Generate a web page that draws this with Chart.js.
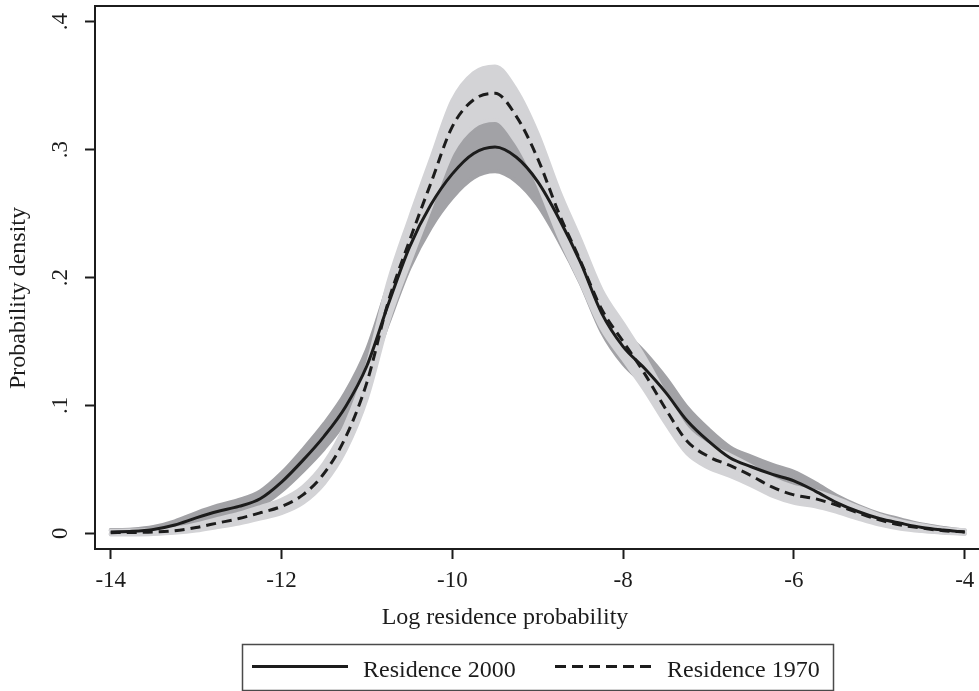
<!DOCTYPE html>
<html>
<head>
<meta charset="utf-8">
<script src="https://cdn.jsdelivr.net/npm/chart.js@4.4.1/dist/chart.umd.min.js"></script>
<style>
  html, body { margin: 0; padding: 0; background: #ffffff; overflow: hidden; }
  #wrap { width: 980px; height: 691px; }
</style>
</head>
<body>
<div id="wrap"><canvas id="densityChart" width="980" height="691"></canvas></div>
<script>
// Grille de l'axe x (log residence probability)
const xGrid = [-14, -13.75, -13.5, -13.25, -13, -12.75, -12.5, -12.25, -12, -11.75, -11.5, -11.25, -11, -10.75, -10.5, -10.25,
  -10, -9.75, -9.5, -9.25, -9, -8.75, -8.5, -8.25, -8, -7.75, -7.5, -7.25, -7, -6.75, -6.5, -6.25, -6, -5.75, -5.5, -5.25,
  -5, -4.75, -4.5, -4.25, -4];

// Residence 2000 : densité + bande de confiance
const density2000 = [0.001, 0.0015, 0.003, 0.0065, 0.012, 0.017, 0.021, 0.027, 0.040, 0.057, 0.076, 0.099, 0.131, 0.179, 0.224, 0.257,
  0.281, 0.297, 0.302, 0.294, 0.275, 0.246, 0.212, 0.172, 0.146, 0.129, 0.110, 0.088, 0.072, 0.059, 0.052, 0.046, 0.041, 0.033, 0.024, 0.017,
  0.0115, 0.0078, 0.0045, 0.0025, 0.001];
const lower2000 = [-0.0005, 0.0000, 0.0011, 0.0037, 0.0082, 0.0125, 0.0160, 0.0213, 0.0331, 0.0487, 0.0664, 0.0881, 0.1184, 0.1643, 0.2076, 0.2394,
  0.2626, 0.2781, 0.2830, 0.2752, 0.2568, 0.2288, 0.1960, 0.1576, 0.1327, 0.1165, 0.0985, 0.0777, 0.0627, 0.0506, 0.0441, 0.0386, 0.0340, 0.0267, 0.0186, 0.0125,
  0.0078, 0.0047, 0.0022, 0.0008, -0.0001];
const upper2000 = [0.0025, 0.0030, 0.0049, 0.0093, 0.0158, 0.0215, 0.0260, 0.0327, 0.0469, 0.0653, 0.0856, 0.1099, 0.1436, 0.1937, 0.2404, 0.2746,
  0.2994, 0.3159, 0.3210, 0.3128, 0.2932, 0.2632, 0.2280, 0.1864, 0.1593, 0.1415, 0.1215, 0.0983, 0.0813, 0.0674, 0.0599, 0.0534, 0.0480, 0.0393, 0.0294, 0.0215,
  0.0152, 0.0109, 0.0068, 0.0042, 0.0021];

// Residence 1970 : densité + bande de confiance
const density1970 = [0.0005, 0.0006, 0.001, 0.002, 0.0045, 0.008, 0.0115, 0.016, 0.021, 0.030, 0.047, 0.075, 0.118, 0.181, 0.229, 0.274,
  0.318, 0.339, 0.344, 0.326, 0.293, 0.250, 0.213, 0.175, 0.150, 0.125, 0.097, 0.072, 0.060, 0.053, 0.045, 0.036, 0.030, 0.027, 0.022, 0.016,
  0.0105, 0.0065, 0.004, 0.002, 0.001];
const lower1970 = [-0.0010, -0.0009, -0.0005, 0.0004, 0.0021, 0.0048, 0.0077, 0.0115, 0.0158, 0.0238, 0.0392, 0.0652, 0.1057, 0.1658, 0.2119, 0.2553,
  0.2978, 0.3182, 0.3231, 0.3056, 0.2736, 0.2321, 0.1965, 0.1600, 0.1361, 0.1123, 0.0859, 0.0624, 0.0512, 0.0448, 0.0374, 0.0292, 0.0238, 0.0211, 0.0167, 0.0115,
  0.0068, 0.0036, 0.0017, 0.0004, -0.0005];
const upper1970 = [0.0020, 0.0021, 0.0025, 0.0036, 0.0069, 0.0112, 0.0153, 0.0205, 0.0262, 0.0362, 0.0548, 0.0848, 0.1303, 0.1962, 0.2461, 0.2927,
  0.3382, 0.3598, 0.3649, 0.3464, 0.3124, 0.2679, 0.2295, 0.1900, 0.1639, 0.1377, 0.1081, 0.0816, 0.0688, 0.0612, 0.0526, 0.0428, 0.0362, 0.0329, 0.0273, 0.0205,
  0.0142, 0.0094, 0.0063, 0.0036, 0.0025];

const xTickValues = [-14, -12, -10, -8, -6, -4];
const xTickLabels = ['-14', '-12', '-10', '-8', '-6', '-4'];
const yTickValues = [0, 0.1, 0.2, 0.3, 0.4];
const yTickLabels = ['0', '.1', '.2', '.3', '.4'];
const seriesNames = ['Residence 2000', 'Residence 1970'];
const xTitle = 'Log residence probability';
const yTitle = 'Probability density';

const ink = '#1c1c1c';
const bandDark = '#a2a2a6';
const bandLight = '#d3d3d6';
const serif = '"Liberation Serif", "DejaVu Serif", serif';
const tickSize = 23;
const textSize = 24;

const pts = arr => xGrid.map((x, i) => ({ x: x, y: arr[i] }));

function bandLine(data, color, order, fill) {
    return {
        data: pts(data),
        borderColor: color,
        backgroundColor: color,
        borderWidth: 4,
        borderCapStyle: 'round',
        borderJoinStyle: 'round',
        pointRadius: 0,
        cubicInterpolationMode: 'monotone',
        fill: fill,
        order: order
    };
}

// cadre du haut, titres d'axes et légende
const decorPlugin = {
    id: 'decor',
    afterDraw(chart) {
        const { ctx, chartArea } = chart;
        ctx.save();
        ctx.strokeStyle = ink;
        ctx.lineWidth = 2;
        ctx.beginPath();
        ctx.moveTo(chartArea.left - 1, chartArea.top);
        ctx.lineTo(chartArea.right, chartArea.top);
        ctx.stroke();

        ctx.fillStyle = ink;
        ctx.font = textSize + 'px ' + serif;
        ctx.textAlign = 'center';
        ctx.textBaseline = 'alphabetic';
        ctx.fillText(xTitle, 505, 624);

        ctx.save();
        ctx.translate(19, 298);
        ctx.rotate(-Math.PI / 2);
        ctx.textBaseline = 'middle';
        ctx.fillText(yTitle, 0, 0);
        ctx.restore();

        // légende
        ctx.strokeStyle = '#4a4a4a';
        ctx.lineWidth = 1.5;
        ctx.strokeRect(242.5, 644.5, 591, 46);

        ctx.strokeStyle = ink;
        ctx.lineWidth = 3;
        ctx.beginPath();
        ctx.moveTo(252, 666.5);
        ctx.lineTo(348, 666.5);
        ctx.stroke();
        ctx.setLineDash([11, 6]);
        ctx.beginPath();
        ctx.moveTo(555, 666.5);
        ctx.lineTo(652, 666.5);
        ctx.stroke();
        ctx.setLineDash([]);

        ctx.textAlign = 'left';
        ctx.textBaseline = 'alphabetic';
        ctx.fillText(seriesNames[0], 363, 677);
        ctx.fillText(seriesNames[1], 667, 677);
        ctx.restore();
    }
};

function initializeDensityChart() {
    const ctx = document.getElementById('densityChart');
    if (!ctx) return;

    new Chart(ctx.getContext('2d'), {
        type: 'line',
        data: {
            datasets: [
                bandLine(lower2000, bandDark, 3, false),
                bandLine(upper2000, bandDark, 3, '-1'),
                bandLine(lower1970, bandLight, 2, false),
                bandLine(upper1970, bandLight, 2, '-1'),
                {
                    label: seriesNames[0],
                    data: pts(density2000),
                    borderColor: ink,
                    borderWidth: 3,
                    pointRadius: 0,
                    cubicInterpolationMode: 'monotone',
                    fill: false,
                    order: 1
                },
                {
                    label: seriesNames[1],
                    data: pts(density1970),
                    borderColor: ink,
                    borderWidth: 3,
                    borderDash: [10, 6],
                    pointRadius: 0,
                    cubicInterpolationMode: 'monotone',
                    fill: false,
                    order: 0
                }
            ]
        },
        options: {
            responsive: false,
            animation: false,
            layout: { padding: { top: 6, left: 0, right: 0, bottom: 0 } },
            plugins: {
                legend: { display: false },
                tooltip: { enabled: false }
            },
            scales: {
                x: {
                    type: 'linear',
                    min: -14.184,
                    max: -3.821,
                    afterBuildTicks: axis => { axis.ticks = xTickValues.map(v => ({ value: v })); },
                    afterFit: axis => {
                        axis.height = 691 - 549;
                        axis.paddingLeft = 0; axis.paddingRight = 0;
                    },
                    ticks: {
                        padding: 8,
                        maxRotation: 0,
                        autoSkip: false,
                        color: ink,
                        font: { family: serif, size: tickSize },
                        callback: (v, i) => xTickLabels[i]
                    },
                    grid: { drawOnChartArea: false, drawTicks: true, tickLength: 10, tickWidth: 2, tickColor: ink },
                    border: { display: true, color: ink, width: 2 }
                },
                y: {
                    type: 'linear',
                    min: -0.0123,
                    max: 0.4123,
                    afterBuildTicks: axis => { axis.ticks = yTickValues.map(v => ({ value: v })); },
                    afterFit: axis => {
                        axis.width = 95;
                        axis.paddingTop = 0; axis.paddingBottom = 0;
                    },
                    ticks: {
                        minRotation: 90,
                        maxRotation: 90,
                        crossAlign: 'center',
                        padding: 15,
                        autoSkip: false,
                        color: ink,
                        font: { family: serif, size: tickSize },
                        callback: (v, i) => yTickLabels[i]
                    },
                    grid: { drawOnChartArea: false, drawTicks: true, tickLength: 10, tickWidth: 2, tickColor: ink },
                    border: { display: true, color: ink, width: 2 }
                }
            }
        },
        plugins: [decorPlugin]
    });
}

document.addEventListener('DOMContentLoaded', initializeDensityChart);
</script>
</body>
</html>
